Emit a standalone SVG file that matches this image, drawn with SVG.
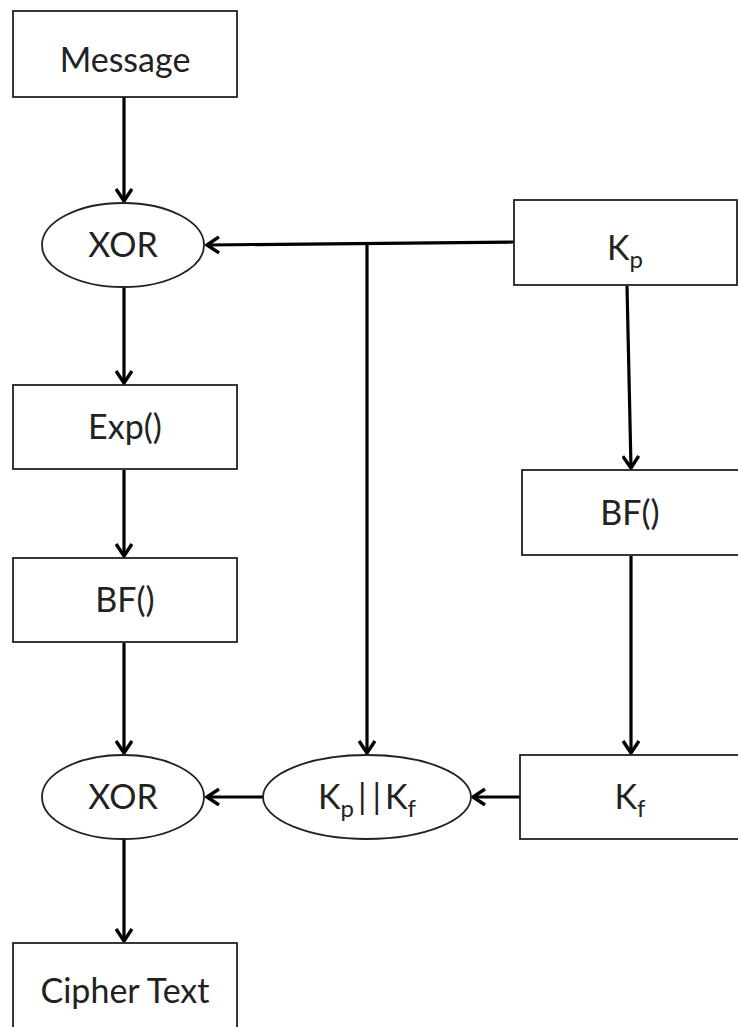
<svg xmlns="http://www.w3.org/2000/svg" width="738" height="1027" viewBox="0 0 738 1027">
<style>
.box{fill:#fff;stroke:#222;stroke-width:1.8}
.lbl{font-family:Lato,"Liberation Sans",sans-serif;font-size:34px;fill:#222;text-anchor:middle}
.sub{font-size:24px}
.con{fill:none;stroke:#000;stroke-width:3.2}
</style>
<defs>
<marker id="ah" markerWidth="16" markerHeight="18" viewBox="-14 -9 16 18" refX="0" refY="0" orient="auto" markerUnits="userSpaceOnUse">
<path d="M-12,-8 L0,0 L-12,8" fill="none" stroke="#000" stroke-width="3.4"/>
</marker>
</defs>
<g id="connectors">
<line class="con" x1="124" y1="97" x2="124" y2="201" marker-end="url(#ah)"/>
<path class="con" d="M514,242 L207,245" marker-end="url(#ah)"/>
<line class="con" x1="367" y1="244" x2="367" y2="753" marker-end="url(#ah)"/>
<line class="con" x1="124" y1="288" x2="124" y2="383" marker-end="url(#ah)"/>
<line class="con" x1="124" y1="470" x2="124" y2="556" marker-end="url(#ah)"/>
<line class="con" x1="124" y1="643" x2="124" y2="753" marker-end="url(#ah)"/>
<line class="con" x1="124" y1="839" x2="124" y2="941" marker-end="url(#ah)"/>
<line class="con" x1="627" y1="286" x2="631" y2="468" marker-end="url(#ah)"/>
<line class="con" x1="631" y1="556" x2="631" y2="753" marker-end="url(#ah)"/>
<line class="con" x1="520" y1="797" x2="473" y2="797" marker-end="url(#ah)"/>
<line class="con" x1="263" y1="797" x2="207" y2="797" marker-end="url(#ah)"/>
</g>
<g id="message">
<rect class="box" x="13" y="11" width="224" height="86"/>
<text class="lbl" x="125" y="72">Message</text>
</g>
<g id="xor1">
<ellipse class="box" cx="123" cy="245" rx="81" ry="42"/>
<text class="lbl" x="123" y="257">XOR</text>
</g>
<g id="kp">
<rect class="box" x="514" y="200" width="223" height="85"/>
<text class="lbl" x="625" y="260">K<tspan class="sub" dy="8">p</tspan></text>
</g>
<g id="exp">
<rect class="box" x="13" y="385" width="224" height="84"/>
<text class="lbl" x="125" y="439">Exp()</text>
</g>
<g id="bf-right">
<rect class="box" x="522" y="470" width="220" height="85"/>
<text class="lbl" x="630" y="525">BF()</text>
</g>
<g id="bf-left">
<rect class="box" x="13" y="558" width="224" height="84"/>
<text class="lbl" x="125" y="612">BF()</text>
</g>
<g id="xor2">
<ellipse class="box" cx="123" cy="797" rx="81" ry="42"/>
<text class="lbl" x="123" y="809">XOR</text>
</g>
<g id="kpkf">
<ellipse class="box" cx="367" cy="797" rx="104" ry="42"/>
<text class="lbl" x="367" y="809">K<tspan class="sub" dy="8">p</tspan><tspan dy="-8" dx="4">|</tspan><tspan dx="6">|</tspan><tspan dx="4">K</tspan><tspan class="sub" dy="8">f</tspan></text>
</g>
<g id="kf">
<rect class="box" x="520" y="755" width="222" height="84"/>
<text class="lbl" x="630" y="809">K<tspan class="sub" dy="8">f</tspan></text>
</g>
<g id="cipher">
<rect class="box" x="13" y="943" width="224" height="90"/>
<text class="lbl" x="125" y="1003">Cipher Text</text>
</g>
</svg>
